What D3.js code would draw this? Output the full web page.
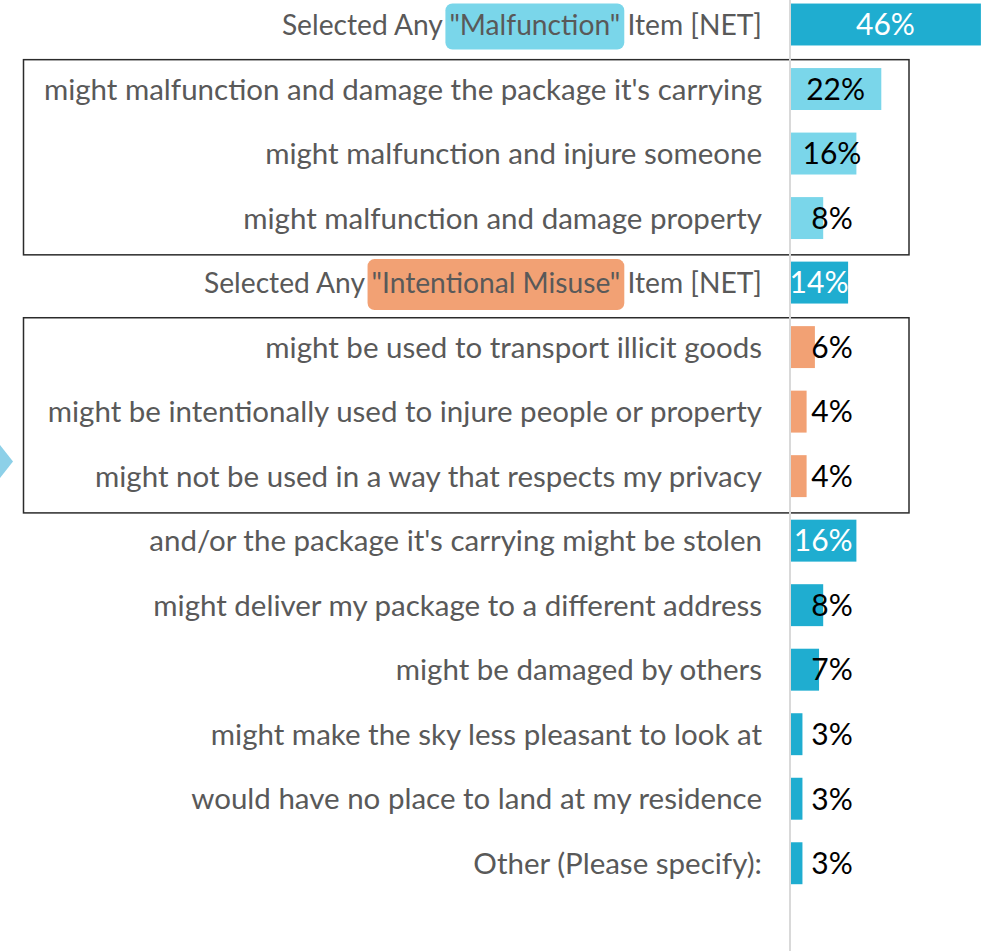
<!DOCTYPE html>
<html>
<head>
<meta charset="utf-8">
<script src="https://cdn.jsdelivr.net/npm/d3@7"></script>
<style>
  html, body { margin: 0; padding: 0; background: #ffffff; }
  svg { display: block; }
</style>
</head>
<body>
<svg id="chart" width="985" height="951"></svg>
<script>
// ---- data ----
const categories = [
  'Selected Any "Malfunction" Item [NET]',
  "might malfunction and damage the package it's carrying",
  "might malfunction and injure someone",
  "might malfunction and damage property",
  'Selected Any "Intentional Misuse" Item [NET]',
  "might be used to transport illicit goods",
  "might be intentionally used to injure people or property",
  "might not be used in a way that respects my privacy",
  "and/or the package it's carrying might be stolen",
  "might deliver my package to a different address",
  "might be damaged by others",
  "might make the sky less pleasant to look at",
  "would have no place to land at my residence",
  "Other (Please specify):"
];
const values = [46, 22, 16, 8, 14, 6, 4, 4, 16, 8, 7, 3, 3, 3];
const groups = ["net", "malfunction", "malfunction", "malfunction", "net",
                "misuse", "misuse", "misuse", "other", "other", "other", "other", "other", "other"];
const highlights = ['"Malfunction"', null, null, null, '"Intentional Misuse"',
                    null, null, null, null, null, null, null, null, null];
const valueLabels = values.map(v => v + "%");

// ---- styles ----
const W = 985, H = 951;
const FONT = "Lato, 'Noto Sans', sans-serif";
const colorFor = { net: "#1fadd0", other: "#1fadd0", malfunction: "#7ad6ea", misuse: "#f2a174" };
const highlightColor = { '"Malfunction"': "#7ad6ea", '"Intentional Misuse"': "#f2a174" };
const textGray = "#595959";

const svg = d3.select("#chart");
svg.append("rect").attr("width", W).attr("height", H).attr("fill", "#fff");

const x = d3.scaleLinear().domain([0, 50]).range([790, 790 + 50 * 4.15]);
const y = d3.scaleBand()
  .domain(d3.range(categories.length))
  .range([-7.75, 895.5])
  .paddingInner(0.35)
  .paddingOuter(0.175);
const bw = y.bandwidth();
const step = y.step();

// group boxes
["malfunction", "misuse"].forEach(g => {
  const idx = d3.range(categories.length).filter(i => groups[i] === g);
  const top = y(idx[0]) - 0.13 * step;
  const bottom = y(idx[idx.length - 1]) + bw + 0.245 * step;
  svg.append("rect")
    .attr("x", 23.5).attr("y", top)
    .attr("width", 909 - 23.5).attr("height", bottom - top)
    .attr("fill", "none").attr("stroke", "#2b2b2b").attr("stroke-width", 1.5);
});

// decorative arrow at left edge
svg.append("path")
  .attr("d", "M-10,445 L0,445 L13,461.5 L0,478 L-10,478 Z")
  .attr("fill", "#8dd0e8");

// axis line
svg.append("line")
  .attr("x1", x(0)).attr("x2", x(0))
  .attr("y1", 0).attr("y2", H)
  .attr("stroke", "#d9d9d9").attr("stroke-width", 2);

// bars
svg.selectAll("rect.bar")
  .data(values)
  .join("rect")
  .attr("class", "bar")
  .attr("x", x(0) + 1)
  .attr("y", (d, i) => y(i))
  .attr("width", d => x(d) - x(0) - 1)
  .attr("height", bw)
  .attr("fill", (d, i) => colorFor[groups[i]]);

// category labels
const labelG = svg.append("g");
const labels = labelG.selectAll("text")
  .data(categories)
  .join("text")
  .attr("x", 762)
  .attr("y", (d, i) => y(i) + bw / 2)
  .attr("dy", "0.36em")
  .attr("text-anchor", "end")
  .attr("font-family", FONT)
  .attr("font-size", (d, i) => groups[i] === "net" ? 28.2 : 29.5)
  .attr("fill", textGray)
  .text(d => d);

// highlight pills behind marked terms
labels.each(function (d, i) {
  const term = highlights[i];
  if (!term) return;
  const start = d.indexOf(term);
  const end = start + term.length - 1;
  const a = this.getExtentOfChar(start);
  const b = this.getExtentOfChar(end);
  const cy = y(i) + bw / 2 + 2;
  const h = i === 0 ? 46 : 51;
  labelG.insert("rect", ":first-child")
    .attr("x", a.x - 4)
    .attr("y", cy - h / 2)
    .attr("width", b.x + b.width - a.x + 8)
    .attr("height", h)
    .attr("rx", 7)
    .attr("fill", highlightColor[term]);
});

// value labels
const isWhite = (d, i) => (groups[i] === "net" || groups[i] === "other") && d >= 10;
svg.selectAll("text.val")
  .data(values)
  .join("text")
  .attr("class", "val")
  .attr("x", (d, i) => isWhite(d, i) ? (x(0) + x(d)) / 2 : Math.max((x(0) + x(d)) / 2, x(0) + 42))
  .attr("y", (d, i) => y(i) + bw / 2)
  .attr("dy", "0.36em")
  .attr("text-anchor", "middle")
  .attr("font-family", FONT)
  .attr("font-size", 30)
  .attr("fill", (d, i) => isWhite(d, i) ? "#ffffff" : "#000000")
  .text((d, i) => valueLabels[i]);
</script>
</body>
</html>
